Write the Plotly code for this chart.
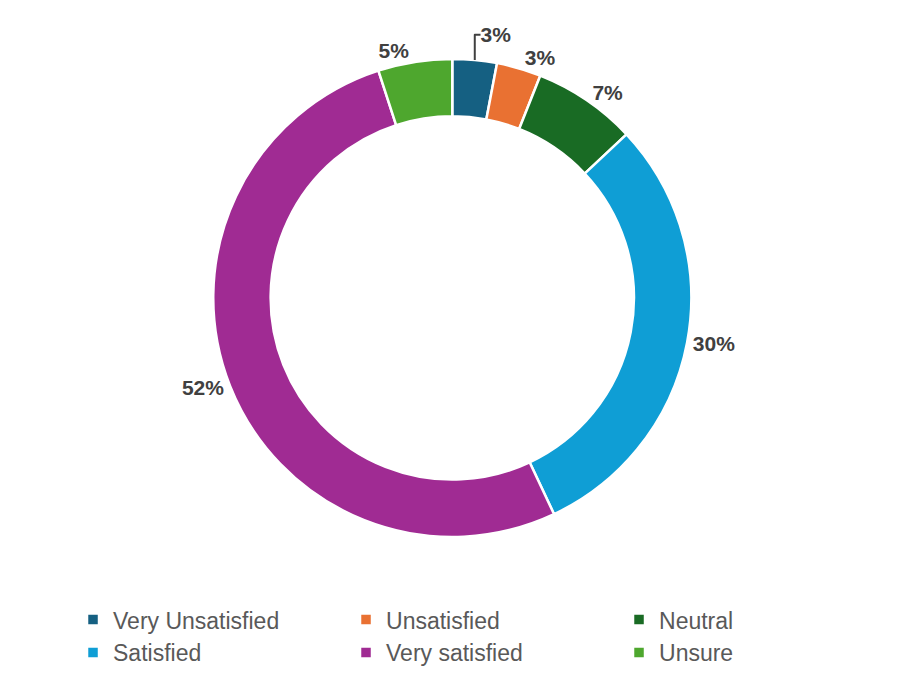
import plotly.graph_objects as go

categories = ['Very Unsatisfied', 'Unsatisfied', 'Neutral', 'Satisfied', 'Very satisfied', 'Unsure']
shares = [3, 3, 7, 30, 52, 5]
colours = ['#156082', '#E97132', '#196B24', '#0F9ED5', '#A02B93', '#4EA72E']

fig = go.Figure()

fig.add_trace(go.Pie(
    labels=categories,
    values=shares,
    hole=0.76,
    sort=False,
    direction='clockwise',
    rotation=0,
    marker=dict(colors=colours, line=dict(color='white', width=2.5)),
    textposition='outside',
    texttemplate='%{percent:.0%}',
    textfont=dict(family='Liberation Sans, Arial', size=21, color='#404040', weight='bold'),
    domain=dict(x=[0.2273, 0.7567], y=[0.229, 0.927]),
))

fig.update_layout(
    width=903, height=687,
    margin=dict(l=0, r=0, t=0, b=0),
    paper_bgcolor='white',
    plot_bgcolor='white',
    showlegend=True,
    legend=dict(
        orientation='h',
        x=0.072, y=0.141,
        xanchor='left', yanchor='top',
        entrywidth=228,
        entrywidthmode='pixels',
        font=dict(family='Liberation Sans, Arial', size=23, color='#595959'),
        itemwidth=30,
    ),
)

fig.write_html("out.html")
